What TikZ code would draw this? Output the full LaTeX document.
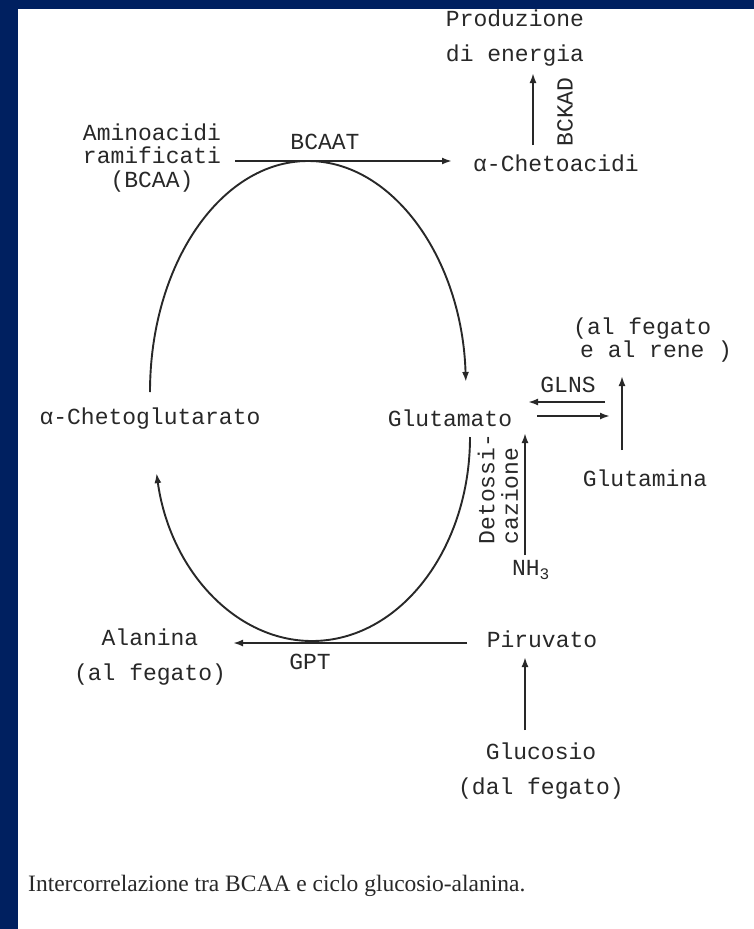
\documentclass[tikz,border=0pt]{standalone}
\usepackage{fontspec}
\setmainfont{Liberation Serif}
\newfontfamily\monofam{Liberation Mono}
\usetikzlibrary{arrows.meta}
\definecolor{navyframe}{RGB}{0,32,96}
\definecolor{ink}{RGB}{40,40,40}
\begin{document}
\begin{tikzpicture}[x=1pt,y=1pt,
  lbl/.style={font=\monofam\fontsize{23}{23.5}\selectfont, text=ink, inner sep=0pt, align=center},
  arr/.style={draw=ink, line width=2.1pt, -{Latex[length=10pt,width=7pt]}},
  loop/.style={draw=ink, line width=1.9pt, -{Latex[length=10pt,width=7pt]}}]
\useasboundingbox (0,0) rectangle (754,-929);
\fill[navyframe] (0,0) rectangle (754,-929);
\fill[white] (18,-9) rectangle (754,-929);

% nodes
\node[lbl] (prod) at (515,-38) {Produzione\\[11pt]di energia};
\node[lbl] (chetoac) at (556,-163) {α-Chetoacidi};
\node[lbl] (bcaa) at (152,-158) {Aminoacidi\\ramificati\\(BCAA)};
\node[lbl] (bcaat) at (325,-142) {BCAAT};
\node[lbl, rotate=90] (bckad) at (565,-112) {BCKAD};
\node[lbl] (kg) at (150,-419) {α-Chetoglutarato};
\node[lbl] (glu) at (450,-418) {Glutamato};
\node[lbl, align=left, anchor=west] (fr) at (573,-340) {(al fegato\\\hspace*{7pt}e al rene )};
\node[lbl] (glns) at (568,-385) {GLNS};
\node[lbl] (gln) at (645,-478) {Glutamina};
\node[lbl, rotate=90, align=left] (detox) at (498,-489) {Detossi-\\cazione};
\node[lbl] (nh3) at (531,-570) {NH\textsubscript{3}};
\node[lbl] (ala) at (150,-657) {Alanina\\[11pt](al fegato)};
\node[lbl] (gpt) at (310,-662) {GPT};
\node[lbl] (piru) at (542,-639) {Piruvato};
\node[lbl] (gluc) at (541,-771) {Glucosio\\[11pt](dal fegato)};
\node[font=\fontsize{23.5}{26}\selectfont, anchor=base west, text=ink, inner sep=0pt] (cap) at (28,-891) {Intercorrelazione tra BCAA e ciclo glucosio-alanina.};

% connector end points
\coordinate (bkA) at (533,-145);
\coordinate (bkB) at (533,-73);
\coordinate (bcA) at (235,-161);
\coordinate (bcB) at (452,-161);
\coordinate (glA) at (605,-402);
\coordinate (glB) at (528,-402);
\coordinate (grA) at (537,-416);
\coordinate (grB) at (610,-416);
\coordinate (gnA) at (622,-450);
\coordinate (gnB) at (622,-376);
\coordinate (nhA) at (525,-555);
\coordinate (nhB) at (525,-433);
\coordinate (gpA) at (467,-643);
\coordinate (gpB) at (233,-643);
\coordinate (gcA) at (525,-730);
\coordinate (gcB) at (525,-657);
\coordinate (upL) at (150,-392);
\coordinate (loR) at (470,-437);

% connectors
\draw[arr] (bkA) -- (bkB);
\draw[arr] (bcA) -- (bcB);
\draw[arr] (glA) -- (glB);
\draw[arr] (grA) -- (grB);
\draw[arr] (gnA) -- (gnB);
\draw[arr] (nhA) -- (nhB);
\draw[arr] (gpA) -- (gpB);
\draw[arr] (gcA) -- (gcB);
\draw[loop] (upL) arc[start angle=180, end angle=2.5, x radius=158pt, y radius=231pt];
\draw[loop] (loR) arc[start angle=0, end angle=-169.8, x radius=158pt, y radius=204pt];
\end{tikzpicture}
\end{document}
